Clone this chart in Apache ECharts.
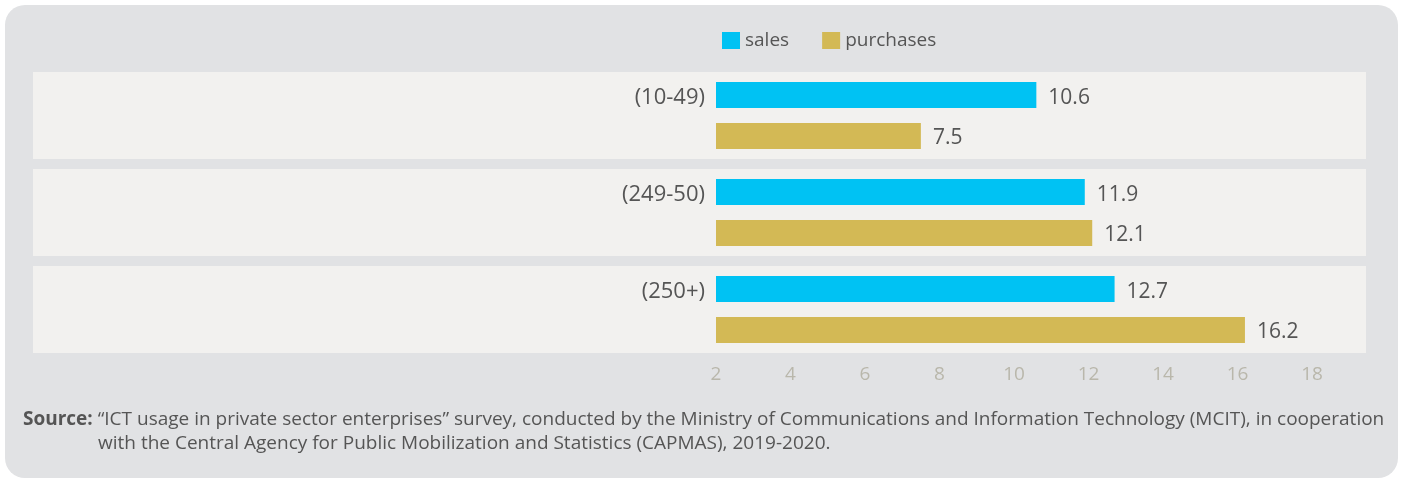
<!DOCTYPE html>
<html>
<head>
<meta charset="utf-8">
<script src="https://cdn.jsdelivr.net/npm/echarts@6/dist/echarts.min.js"></script>
<style>
	html, body { margin: 0; padding: 0; background: #ffffff; }
	#charts { width: 1402px; height: 482px; }
</style>
</head>
<body>
<div id="charts"></div>
<script>
var categories = ['(10-49)', '(249-50)', '(250+)'];
var seriesNames = ['sales', 'purchases'];
var salesData = [10.6, 11.9, 12.7];
var purchasesData = [7.5, 12.1, 16.2];
var xTicks = [2, 4, 6, 8, 10, 12, 14, 16, 18];
var sourceLine1 = '\u201cICT usage in private sector enterprises\u201d survey, conducted by the Ministry of Communications and Information Technology (MCIT), in cooperation';
var sourceLine2 = 'with the Central Agency for Public Mobilization and Statistics (CAPMAS), 2019-2020.';

var FONT = '"Open Sans", "Noto Sans", sans-serif';
var colors = ['#00c2f3', '#d3b955'];

var charts = echarts.init(document.getElementById('charts'));

var option = {
	color: colors,
	animation: false,
	textStyle: { fontFamily: FONT },
	legend: {
		data: seriesNames,
		left: 717,
		top: 26,
		itemWidth: 18,
		itemHeight: 17,
		itemGap: 33,
		icon: 'rect',
		textStyle: { fontSize: 19, color: '#555555', fontFamily: FONT }
	},
	title: [{
		left: 18,
		top: 405,
		text: '{b|Source:} ' + sourceLine1,
		textStyle: {
			fontSize: 19, color: '#555555', fontWeight: 'normal', fontFamily: FONT,
			rich: { b: { fontSize: 19, fontWeight: 'bold', color: '#555555', fontFamily: FONT } }
		}
	}, {
		left: 93,
		top: 429,
		text: sourceLine2,
		textStyle: { fontSize: 19, color: '#555555', fontWeight: 'normal', fontFamily: FONT }
	}],
	grid: {
		left: 716,
		right: 90,
		top: 67,
		height: 291,
		containLabel: false
	},
	xAxis: {
		type: 'value',
		min: xTicks[0],
		max: xTicks[xTicks.length - 1],
		interval: 2,
		axisLine: { show: false },
		axisTick: { show: false },
		splitLine: { show: false },
		axisLabel: { color: '#b9b7ab', fontSize: 19, margin: 7, fontFamily: FONT }
	},
	yAxis: {
		type: 'category',
		inverse: true,
		data: categories,
		axisLine: { show: false },
		axisTick: { show: false },
		axisLabel: {
			color: '#555555', fontSize: 22, margin: 11, fontFamily: FONT,
			verticalAlign: 'bottom',
			lineHeight: 35
		}
	},
	series: [{
		name: seriesNames[0],
		type: 'bar',
		data: salesData,
		barWidth: 26,
		barGap: '58%',
		label: { show: true, position: 'right', distance: 12, offset: [0, 3], fontSize: 21, color: '#555555', fontFamily: FONT }
	}, {
		name: seriesNames[1],
		type: 'bar',
		data: purchasesData,
		barWidth: 26,
		barGap: '58%',
		label: { show: true, position: 'right', distance: 12, offset: [0, 2], fontSize: 21, color: '#555555', fontFamily: FONT }
	}]
};
charts.setOption(option);

//背景及分类色带
var bands = [{
	type: 'rect', z: -10, silent: true,
	shape: { x: 5, y: 5, width: 1393, height: 473, r: 20 },
	style: { fill: '#e1e2e4' }
}];
for (var i = 0; i < categories.length; i++) {
	var cy = charts.convertToPixel({ yAxisIndex: 0 }, categories[i]);
	bands.push({
		type: 'rect', z: -9, silent: true,
		shape: { x: 33, y: cy - 43.5, width: 1333, height: 87 },
		style: { fill: '#f2f1ef' }
	});
}
charts.setOption({ graphic: bands });
</script>
</body>
</html>
